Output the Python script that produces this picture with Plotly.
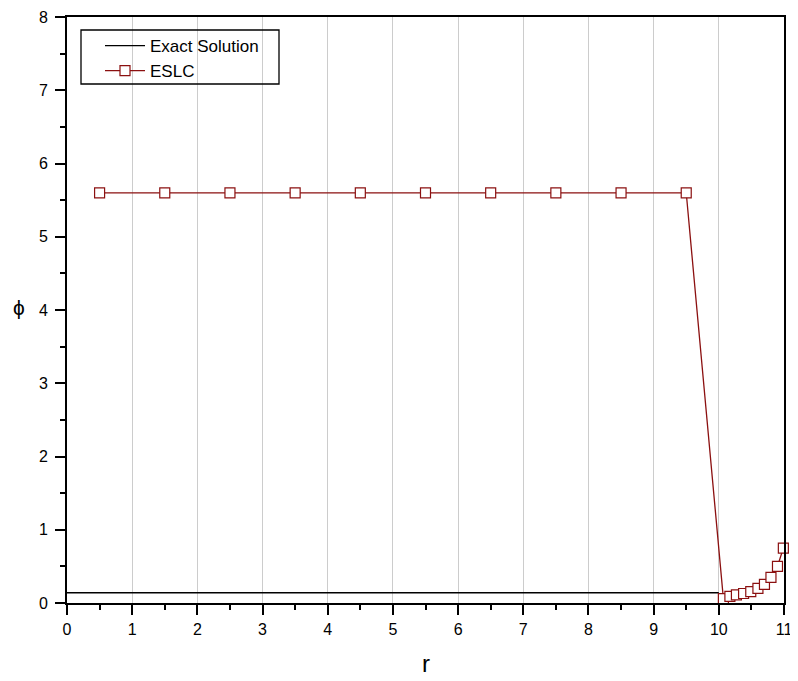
import plotly.graph_objects as go

# Data
exact_r = [0, 10]
exact_phi = [0.14, 0.14]

eslc_r = [0.5, 1.5, 2.5, 3.5, 4.5, 5.5, 6.5, 7.5, 8.5, 9.5,
          10.07, 10.17, 10.27, 10.38, 10.49, 10.6, 10.7, 10.8, 10.9, 10.99]
eslc_phi = [5.6, 5.6, 5.6, 5.6, 5.6, 5.6, 5.6, 5.6, 5.6, 5.6,
            0.06, 0.09, 0.11, 0.13, 0.155, 0.2, 0.255, 0.35, 0.5, 0.75]

x_ticks = list(range(0, 12))
y_ticks = list(range(0, 9))

RED = "#8B1010"
FONT = "Liberation Sans, Arial, sans-serif"

OFF = 8  # page body margin offset
W, H = 798 - OFF, 681 - OFF
# plot area in page pixels: x 67..784, y 17..603
L, R, T, B = 67 - OFF, 14, 17 - OFF, 78
PW, PH = W - L - R, H - T - B


def px(x):
    """page-pixel x -> paper fraction"""
    return (x - OFF - L) / PW


def py(y):
    """page-pixel y -> paper fraction"""
    return (H - B - (y - OFF)) / PH


fig = go.Figure()
fig.add_trace(go.Scatter(x=exact_r, y=exact_phi, mode="lines", name="Exact Solution",
                         line=dict(color="black", width=1.3)))
fig.add_trace(go.Scatter(x=eslc_r, y=eslc_phi, mode="lines+markers", name="ESLC",
                         line=dict(color=RED, width=1.3),
                         marker=dict(symbol="square", size=10, color="white",
                                     line=dict(color=RED, width=1.2)),
                         cliponaxis=False))

fig.update_layout(
    width=W, height=H,
    margin=dict(l=L, r=R, t=T, b=B, autoexpand=False),
    plot_bgcolor="white", paper_bgcolor="white",
    font=dict(family=FONT, size=16, color="black"),
    showlegend=True,
    legend=dict(x=px(100), y=py(28), xanchor="left", yanchor="top",
                borderwidth=0, bgcolor="rgba(0,0,0,0)",
                font=dict(size=17, family=FONT), tracegroupgap=0,
                itemwidth=40),
    xaxis=dict(range=[0, 11], tickvals=x_ticks, ticktext=[str(v) for v in x_ticks],
               showgrid=True, gridcolor="#cccccc", gridwidth=1,
               ticks="outside", ticklen=10, tickwidth=2, tickcolor="black",
               showline=True, linecolor="black", linewidth=2, mirror=True,
               zeroline=False, automargin=False, ticklabelstandoff=1,
               minor=dict(tickvals=[i + 0.5 for i in range(11)], ticks="outside",
                          ticklen=5, tickwidth=2, tickcolor="black", showgrid=False),
               tickfont=dict(size=16, family=FONT)),
    yaxis=dict(range=[0, 8], tickvals=y_ticks, ticktext=[str(v) for v in y_ticks],
               showgrid=False,
               ticks="outside", ticklen=10, tickwidth=2, tickcolor="black",
               showline=True, linecolor="black", linewidth=2, mirror=True,
               zeroline=False, automargin=False, ticklabelstandoff=4,
               minor=dict(tickvals=[i + 0.5 for i in range(8)], ticks="outside",
                          ticklen=5, tickwidth=2, tickcolor="black", showgrid=False),
               tickfont=dict(size=16, family=FONT)),
)

# legend frame
fig.add_shape(type="rect", xref="paper", yref="paper",
              x0=px(81), x1=px(279), y0=py(84), y1=py(30),
              line=dict(color="black", width=1.3), fillcolor="rgba(0,0,0,0)")

# axis titles
fig.add_annotation(text="ϕ", x=px(19), y=py(308), xref="paper", yref="paper",
                   xanchor="center", yanchor="middle",
                   showarrow=False, font=dict(size=21, family=FONT))
fig.add_annotation(text="r", x=px(426), y=py(664), xref="paper", yref="paper",
                   xanchor="center", yanchor="middle",
                   showarrow=False, font=dict(size=24, family=FONT))

fig.write_html("out.html")
